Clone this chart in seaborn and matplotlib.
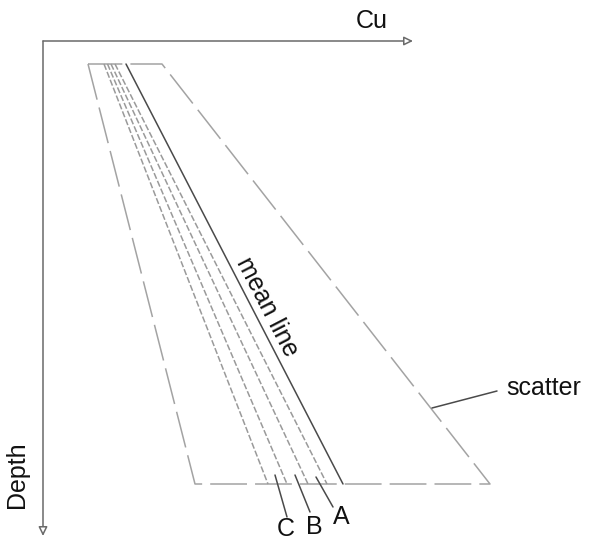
import numpy as np
import pandas as pd
import matplotlib
matplotlib.use("Agg")
import matplotlib.pyplot as plt
import seaborn as sns

# chart units: Cu to the right, Depth downwards, origin at the axes corner
depth_top = 2.3
depth_bottom = 44.3

# scatter envelope (trapezoid)
env_cu = [4.5, 15.2, 44.7, 11.9, 4.5]
env_depth = [depth_top, depth_bottom, depth_bottom, depth_top, depth_top]

# lower-bound lines C, ., B, A ... and the mean line
bound_top = [6.1, 6.45, 6.8, 7.2]
bound_bottom = [22.5, 24.4, 26.5, 28.4]
mean_top, mean_bottom = 8.3, 30.0

# label leaders
abc_labels = ["C", "B", "A"]
abc_from = [(23.2, 43.4), (25.2, 43.4), (27.3, 43.6)]
abc_to = [(24.4, 47.6), (26.7, 47.1), (29.0, 46.6)]
abc_text = [(24.3, 48.85), (27.1, 48.6), (29.8, 47.6)]

scatter_from = (38.9, 36.7)
scatter_to = (45.4, 35.0)

sns.set_theme(style="white")
plt.rcParams["font.family"] = ["Liberation Sans", "DejaVu Sans"]
plt.rcParams["lines.scale_dashes"] = False

fig = plt.figure(figsize=(5.89, 5.42), dpi=100)
ax = fig.add_axes([0, 0, 1, 1])
ax.set_xlim(-4.3, 54.6)
ax.set_ylim(50.1, -4.1)
ax.axis("off")

env = pd.DataFrame({"Cu": env_cu, "Depth": env_depth})
sns.lineplot(data=env, x="Cu", y="Depth", sort=False, estimator=None, ax=ax,
             color="#a3a3a3", linewidth=1.1, linestyle=(0, (26.5, 5.8)))

for t, b in zip(bound_top, bound_bottom):
    d = pd.DataFrame({"Cu": [t, b], "Depth": [depth_top, depth_bottom]})
    sns.lineplot(data=d, x="Cu", y="Depth", sort=False, estimator=None, ax=ax,
                 color="#9a9a9a", linewidth=1.1, linestyle=(0, (4.5, 1.6)))

mean = pd.DataFrame({"Cu": [mean_top, mean_bottom], "Depth": [depth_top, depth_bottom]})
sns.lineplot(data=mean, x="Cu", y="Depth", sort=False, estimator=None, ax=ax,
             color="#4a4a4a", linewidth=1.1)

# axes arrows
arrow = dict(arrowstyle="-|>,head_length=0.45,head_width=0.22", color="#6a6a6a",
             lw=1.1, fc="white", shrinkA=0, shrinkB=0)
ax.annotate("", xy=(37.0, 0), xytext=(0, 0), arrowprops=arrow)
ax.annotate("", xy=(0, 49.5), xytext=(0, 0), arrowprops=arrow)
ax.text(32.9, -1.3, "Cu", fontsize=18, ha="center", va="baseline", color="#111111")
ax.text(-2.6, 43.4, "Depth", fontsize=18, rotation=90, ha="center", va="center",
        color="#111111")

# mean line label along the line
p0 = ax.transData.transform((mean_top, depth_top))
p1 = ax.transData.transform((mean_bottom, depth_bottom))
ang = np.degrees(np.arctan2(p1[1] - p0[1], p1[0] - p0[0]))
ax.text(22.4, 26.6, "mean line", fontsize=18, rotation=ang, rotation_mode="anchor",
        ha="center", va="center", color="#111111")

for lab, a, b, c in zip(abc_labels, abc_from, abc_to, abc_text):
    ax.plot([a[0], b[0]], [a[1], b[1]], color="#4a4a4a", lw=1.1)
    ax.text(c[0], c[1], lab, fontsize=18, ha="center", va="center", color="#111111")

ax.plot([scatter_from[0], scatter_to[0]], [scatter_from[1], scatter_to[1]],
        color="#4a4a4a", lw=1.1)
ax.text(46.3, 34.7, "scatter", fontsize=18, ha="left", va="center", color="#111111")

fig.savefig("out.png", dpi=100)
